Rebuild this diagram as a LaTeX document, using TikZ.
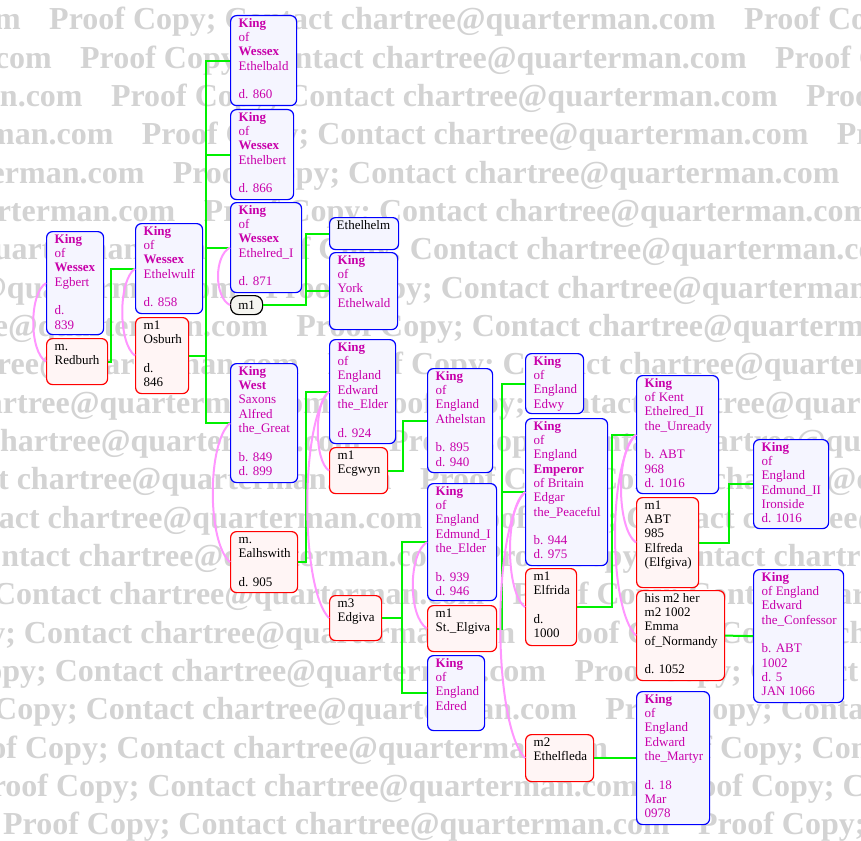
\documentclass[tikz,border=0pt]{standalone}
\usepackage{fontspec}
\setmainfont{Liberation Serif}
\definecolor{kblue}{RGB}{0,0,255}
\definecolor{kfill}{RGB}{245,245,255}
\definecolor{sred}{RGB}{255,0,0}
\definecolor{sfill}{RGB}{255,245,245}
\definecolor{pfill}{RGB}{245,245,240}
\definecolor{kgreen}{RGB}{0,240,0}
\definecolor{kpink}{RGB}{255,150,255}
\definecolor{kmag}{RGB}{200,0,170}
\definecolor{wmgray}{RGB}{211,211,211}
\tikzset{
 kbox/.style={draw=kblue, fill=kfill, line width=1.2pt, rounded corners=6pt, inner sep=0pt, anchor=north west},
 sbox/.style={kbox, draw=sred, fill=sfill},
 pillbox/.style={kbox, draw=black, fill=pfill, rounded corners=8pt, font=\fontsize{13}{14.3}\selectfont},
 ktxt/.style={anchor=north west, inner sep=0pt, align=left, font=\fontsize{13}{14.3}\selectfont, text=kmag},
 stxt/.style={ktxt, text=black},
 gline/.style={draw=kgreen, line width=2pt},
 pline/.style={draw=kpink, line width=2pt},
 wm/.style={anchor=base west, inner sep=0pt, text=wmgray, font=\fontsize{32}{38}\selectfont\bfseries},
}
\begin{document}
\begin{tikzpicture}[x=1pt,y=-1pt]
\useasboundingbox (0,0) rectangle (861,840);
% watermark
\begin{scope}
\clip (0,0) rectangle (861,840);
\foreach \k in {0,...,21}{
  \pgfmathsetmacro\yy{30+38.33*\k}
  \pgfmathsetmacro\xx{49+30.9*\k}
  \foreach \j in {-1,0,1}{
    \node[wm] (wm-\k-\j) at ({\xx+695*\j},\yy) {Proof Copy; Contact chartree@quarterman.com};
  }
}
\end{scope}

% boxes
\node[kbox, minimum width=57, minimum height=103] (egbert) at (46,231) {};
\node[sbox, minimum width=61, minimum height=46] (redburh) at (46,338) {};
\node[kbox, minimum width=67, minimum height=90] (ethelwulf) at (135,223) {};
\node[sbox, minimum width=53, minimum height=76] (osburh) at (135,317) {};
\node[kbox, minimum width=66, minimum height=90] (ethelbald) at (230,15) {};
\node[kbox, minimum width=63, minimum height=90] (ethelbert) at (230,109) {};
\node[kbox, minimum width=71, minimum height=90] (ethelred1) at (230,202) {};
\node[pillbox, minimum width=32, minimum height=19] (pill) at (230,295) {m1};
\node[kbox, minimum width=69, minimum height=32] (ethelhelm) at (329,217) {};
\node[kbox, minimum width=68, minimum height=77] (ethelwald) at (329,252) {};
\node[kbox, minimum width=67, minimum height=119] (alfred) at (230,363) {};
\node[sbox, minimum width=67, minimum height=61] (ealhswith) at (230,531) {};
\node[kbox, minimum width=66, minimum height=104] (edwardelder) at (329,339) {};
\node[sbox, minimum width=58, minimum height=46] (ecgwyn) at (329,447) {};
\node[sbox, minimum width=52, minimum height=45] (edgiva) at (329,595) {};
\node[kbox, minimum width=65, minimum height=104] (athelstan) at (427,368) {};
\node[kbox, minimum width=69, minimum height=117] (edmund1) at (427,483) {};
\node[sbox, minimum width=69, minimum height=46] (stelgiva) at (427,605) {};
\node[kbox, minimum width=57, minimum height=75] (edred) at (427,655) {};
\node[kbox, minimum width=58, minimum height=60] (edwy) at (525,353) {};
\node[kbox, minimum width=82, minimum height=147] (edgar) at (525,418) {};
\node[sbox, minimum width=51, minimum height=77] (elfrida) at (525,568) {};
\node[kbox, minimum width=82, minimum height=118] (ethelred2) at (636,375) {};
\node[sbox, minimum width=62, minimum height=90] (elfreda) at (636,497) {};
\node[sbox, minimum width=88, minimum height=90] (emma) at (636,590) {};
\node[kbox, minimum width=75, minimum height=89] (edmund2) at (753,439) {};
\node[kbox, minimum width=90, minimum height=133] (confessor) at (753,569) {};
\node[sbox, minimum width=68, minimum height=47] (ethelfleda) at (525,734) {};
\node[kbox, minimum width=73, minimum height=133] (martyr) at (636,691) {};

% green descent lines
\draw[gline] (redburh.east) -- (111,0 |- redburh.east) |- (ethelwulf.west);
\foreach \c in {ethelbald,ethelbert,ethelred1,alfred}
  \draw[gline] (osburh.east) -- (206,0 |- osburh.east) |- (\c.west);
\foreach \c in {ethelhelm,ethelwald}
  \draw[gline] (pill.east) -- (306,0 |- pill.east) |- (\c.west);
\draw[gline] (ealhswith.east) -- (306,0 |- ealhswith.east) |- (edwardelder.west);
\draw[gline] (ecgwyn.east) -- (403,0 |- ecgwyn.east) |- (athelstan.west);
\foreach \c in {edmund1,edred}
  \draw[gline] (edgiva.east) -- (402,0 |- edgiva.east) |- (\c.west);
\foreach \c in {edwy,edgar}
  \draw[gline] (stelgiva.east) -- (502,0 |- stelgiva.east) |- (\c.west);
\draw[gline] (elfrida.east) -- (612,0 |- elfrida.east) |- (ethelred2.west);
\draw[gline] (elfreda.east) -- (729,0 |- elfreda.east) |- (edmund2.west);
\draw[gline] (emma.east) -- (confessor.west);
\draw[gline] (ethelfleda.east) -- (martyr.west);

% pink marriage links
\draw[pline] (egbert.west) .. controls +(-17,10) and +(-17,-10) .. (redburh.west);
\draw[pline] (ethelwulf.west) .. controls +(-17,12) and +(-17,-12) .. (osburh.west);
\draw[pline] (ethelred1.west) .. controls +(-16,8) and +(-16,-8) .. (pill.west);
\draw[pline] (alfred.west) .. controls +(-23,20) and +(-23,-20) .. (ealhswith.west);
\draw[pline] (edwardelder.west) .. controls +(-15,10) and +(-15,-10) .. (ecgwyn.west);
\draw[pline] (edwardelder.west) .. controls +(-29,30) and +(-29,-30) .. (edgiva.west);
\draw[pline] (edmund1.west) .. controls +(-19,12) and +(-19,-12) .. (stelgiva.west);
\draw[pline] (edgar.west) .. controls +(-20,15) and +(-20,-15) .. (elfrida.west);
\draw[pline] (edgar.west) .. controls +(-33,35) and +(-33,-35) .. (ethelfleda.west);
\draw[pline] (ethelred2.west) .. controls +(-20,15) and +(-20,-15) .. (elfreda.west);
\draw[pline] (ethelred2.west) .. controls +(-28,28) and +(-28,-28) .. (emma.west);

% texts
\node[ktxt] (egbert-t) at (54.5,233) {\strut\textbf{King}\\of\\\textbf{Wessex}\\Egbert\\~\\d.\\839};
\node[stxt] (redburh-t) at (54.5,340) {\strut m.\\Redburh};
\node[ktxt] (ethelwulf-t) at (143.5,225) {\strut\textbf{King}\\of\\\textbf{Wessex}\\Ethelwulf\\~\\d. 858};
\node[stxt] (osburh-t) at (143.5,319) {\strut m1\\Osburh\\~\\d.\\846};
\node[ktxt] (ethelbald-t) at (238.5,17) {\strut\textbf{King}\\of\\\textbf{Wessex}\\Ethelbald\\~\\d. 860};
\node[ktxt] (ethelbert-t) at (238.5,111) {\strut\textbf{King}\\of\\\textbf{Wessex}\\Ethelbert\\~\\d. 866};
\node[ktxt] (ethelred1-t) at (238.5,204) {\strut\textbf{King}\\of\\\textbf{Wessex}\\Ethelred\_I\\~\\d. 871};
\node[stxt] (ethelhelm-t) at (336.5,219) {\strut Ethelhelm};
\node[ktxt] (ethelwald-t) at (337.5,254) {\strut\textbf{King}\\of\\York\\Ethelwald};
\node[ktxt] (alfred-t) at (238.5,365) {\strut\textbf{King}\\\textbf{West}\\Saxons\\Alfred\\the\_Great\\~\\b. 849\\d. 899};
\node[stxt] (ealhswith-t) at (238.5,533) {\strut m.\\Ealhswith\\~\\d. 905};
\node[ktxt] (edwardelder-t) at (337.5,341) {\strut\textbf{King}\\of\\England\\Edward\\the\_Elder\\~\\d. 924};
\node[stxt] (ecgwyn-t) at (337.5,449) {\strut m1\\Ecgwyn};
\node[stxt] (edgiva-t) at (337.5,597) {\strut m3\\Edgiva};
\node[ktxt] (athelstan-t) at (435.5,370) {\strut\textbf{King}\\of\\England\\Athelstan\\~\\b. 895\\d. 940};
\node[ktxt] (edmund1-t) at (435.5,485) {\strut\textbf{King}\\of\\England\\Edmund\_I\\the\_Elder\\~\\b. 939\\d. 946};
\node[stxt] (stelgiva-t) at (435.5,607) {\strut m1\\St.\_Elgiva};
\node[ktxt] (edred-t) at (435.5,657) {\strut\textbf{King}\\of\\England\\Edred};
\node[ktxt] (edwy-t) at (533.5,355) {\strut\textbf{King}\\of\\England\\Edwy};
\node[ktxt] (edgar-t) at (533.5,420) {\strut\textbf{King}\\of\\England\\\textbf{Emperor}\\of Britain\\Edgar\\the\_Peaceful\\~\\b. 944\\d. 975};
\node[stxt] (elfrida-t) at (533.5,570) {\strut m1\\Elfrida\\~\\d.\\1000};
\node[ktxt] (ethelred2-t) at (644.5,377) {\strut\textbf{King}\\of Kent\\Ethelred\_II\\the\_Unready\\~\\b. ABT\\968\\d. 1016};
\node[stxt] (elfreda-t) at (644.5,499) {\strut m1\\ABT\\985\\Elfreda\\(Elfgiva)};
\node[stxt] (emma-t) at (644.5,592) {\strut his m2 her\\m2 1002\\Emma\\of\_Normandy\\~\\d. 1052};
\node[ktxt] (edmund2-t) at (761.5,441) {\strut\textbf{King}\\of\\England\\Edmund\_II\\Ironside\\d. 1016};
\node[ktxt] (confessor-t) at (761.5,571) {\strut\textbf{King}\\of England\\Edward\\the\_Confessor\\~\\b. ABT\\1002\\d. 5\\JAN 1066};
\node[stxt] (ethelfleda-t) at (533.5,736) {\strut m2\\Ethelfleda};
\node[ktxt] (martyr-t) at (644.5,693) {\strut\textbf{King}\\of\\England\\Edward\\the\_Martyr\\~\\d. 18\\Mar\\0978};
\end{tikzpicture}
\end{document}
